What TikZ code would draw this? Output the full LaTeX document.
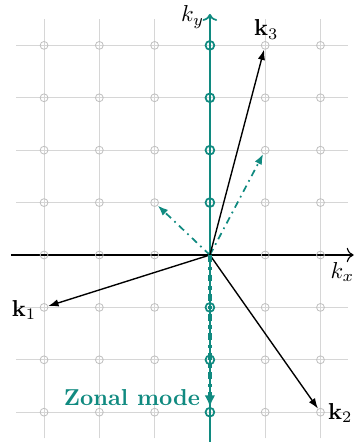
\documentclass[tikz,border=0pt]{standalone}
\usetikzlibrary{arrows.meta}
\definecolor{zteal}{RGB}{16,138,128}
\begin{document}
\begin{tikzpicture}[x=24pt,y=22.75pt,
  gridline/.style={draw=black!16, line width=0.4pt},
  gpt/.style={circle, draw=black!25, line width=0.35pt, minimum size=3.4pt, inner sep=0pt},
  zpt/.style={circle, draw=zteal, line width=0.75pt, minimum size=3.8pt, inner sep=0pt},
  vec/.style={black, line width=0.6pt, -{Latex[length=4.5pt,width=3.2pt]}},
  tvec/.style={zteal, line width=0.75pt, dash dot, -{Latex[length=4.5pt,width=3.4pt]}},
  zvec/.style={zteal, line width=1.5pt, dash dot, -{Latex[length=5pt,width=4.6pt]}},
  lab/.style={inner sep=0pt}]
\useasboundingbox (-3.797,-3.645) rectangle (2.658,4.866);
% grid
\foreach \i in {-3,...,2} \draw[gridline] (\i,-3.5) -- (\i,4.5);
\foreach \j in {-3,...,4} \draw[gridline] (-3.5,\j) -- (2.5,\j);
% axes
\coordinate (xl) at (-3.6,0);
\coordinate (xr) at (2.6,0);
\coordinate (yb) at (0,-3.56);
\coordinate (yt) at (0,4.6);
\coordinate (O) at (0,0);
\draw[black, line width=0.5pt, -{To[length=3pt]}] (xl) -- (xr);
\draw[zteal, line width=0.75pt, -{To[length=3pt]}] (yb) -- (yt);
% lattice points
\foreach \i [count=\a] in {-3,...,2}
  \foreach \j [count=\b] in {-3,...,4} {
    \ifnum\i=0
      \ifnum\j=0 \else \node[zpt] (g\a-\b) at (\i,\j) {}; \fi
    \else
      \node[gpt] (g\a-\b) at (\i,\j) {};
    \fi
  }
% vectors
\draw[tvec] (O) -- (g3-5);
\draw[tvec] (O) -- (g5-6);
\draw[vec] (O) -- (g1-3);
\draw[vec] (O) -- (g6-1);
\draw[vec] (O) -- (g5-8);
\draw[zvec] (O) -- (g4-1);
% labels
\node[lab] (l1) at (-3.36,-1.05) {$\mathbf{k}_1$};
\node[lab] (l2) at (2.36,-3.02) {$\mathbf{k}_2$};
\node[lab] (l3) at (1.02,4.3) {$\mathbf{k}_3$};
\node[lab] (ly) at (-0.31,4.54) {$k_y$};
\node[lab, anchor=east] (lx) at (2.62,-0.32) {$k_x$};
\node[lab, anchor=east, text=zteal, font=\bfseries] (zm) at (-0.17,-2.73) {Zonal mode};
\end{tikzpicture}
\end{document}
